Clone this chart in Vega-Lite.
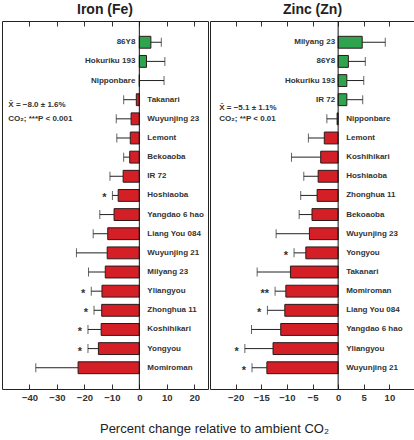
{
  "$schema": "https://vega.github.io/schema/vega-lite/v6.json",
  "padding": {"left": 1, "top": 2, "right": 1, "bottom": 4},
  "spacing": 0,
  "config": {
    "font": "Liberation Sans",
    "view": {"stroke": "#222", "strokeWidth": 1},
    "axis": {"grid": false, "domain": false, "tickColor": "#333", "tickWidth": 1, "tickSize": -5, "labelFont": "Liberation Sans", "labelFontWeight": "bold", "labelFontSize": 9.5, "labelColor": "#333", "labelPadding": 8, "title": null},
    "title": {"font": "Liberation Sans", "fontSize": 14, "fontWeight": "bold", "color": "#222", "offset": 4}
  },
  "title": {"text": "Percent change relative to ambient CO₂", "orient": "bottom", "anchor": "middle", "fontSize": 13, "fontWeight": "normal", "color": "#222", "offset": 21, "dx": 6},
  "datasets": {
    "fe": [
      {"cultivar": "86Y8", "value": 4.2, "errEnd": 8.0, "sig": ""},
      {"cultivar": "Hokuriku 193", "value": 2.6, "errEnd": 9.3, "sig": ""},
      {"cultivar": "Nipponbare", "value": 0, "errEnd": 9.0, "sig": ""},
      {"cultivar": "Takanari", "value": -1.1, "errEnd": -5.7, "sig": ""},
      {"cultivar": "Wuyunjing 23", "value": -3.0, "errEnd": -8.4, "sig": ""},
      {"cultivar": "Lemont", "value": -3.3, "errEnd": -8.2, "sig": ""},
      {"cultivar": "Bekoaoba", "value": -3.5, "errEnd": -5.7, "sig": ""},
      {"cultivar": "IR 72", "value": -5.9, "errEnd": -10.7, "sig": ""},
      {"cultivar": "Hoshiaoba", "value": -7.7, "errEnd": -9.8, "sig": "*"},
      {"cultivar": "Yangdao 6 hao", "value": -9.2, "errEnd": -14.4, "sig": ""},
      {"cultivar": "Liang You 084", "value": -11.5, "errEnd": -16.8, "sig": ""},
      {"cultivar": "Wuyunjing 21", "value": -11.7, "errEnd": -22.9, "sig": ""},
      {"cultivar": "Milyang 23", "value": -12.4, "errEnd": -18.5, "sig": ""},
      {"cultivar": "Yliangyou", "value": -13.6, "errEnd": -17.5, "sig": "*"},
      {"cultivar": "Zhonghua 11", "value": -13.7, "errEnd": -16.5, "sig": "*"},
      {"cultivar": "Koshihikari", "value": -13.9, "errEnd": -18.7, "sig": "*"},
      {"cultivar": "Yongyou", "value": -14.9, "errEnd": -18.7, "sig": "*"},
      {"cultivar": "Momiroman", "value": -22.3, "errEnd": -37.7, "sig": ""}
    ],
    "zn": [
      {"cultivar": "Milyang 23", "value": 4.7, "errEnd": 9.2, "sig": ""},
      {"cultivar": "86Y8", "value": 2.0, "errEnd": 5.3, "sig": ""},
      {"cultivar": "Hokuriku 193", "value": 1.7, "errEnd": 5.0, "sig": ""},
      {"cultivar": "IR 72", "value": 1.7, "errEnd": 4.8, "sig": ""},
      {"cultivar": "Nipponbare", "value": -0.2, "errEnd": -2.2, "sig": ""},
      {"cultivar": "Lemont", "value": -2.7, "errEnd": -5.8, "sig": ""},
      {"cultivar": "Koshihikari", "value": -3.4, "errEnd": -9.1, "sig": ""},
      {"cultivar": "Hoshiaoba", "value": -3.9, "errEnd": -6.7, "sig": ""},
      {"cultivar": "Zhonghua 11", "value": -4.1, "errEnd": -7.3, "sig": ""},
      {"cultivar": "Bekoaoba", "value": -5.1, "errEnd": -7.6, "sig": ""},
      {"cultivar": "Wuyunjing 23", "value": -5.6, "errEnd": -12.1, "sig": ""},
      {"cultivar": "Yongyou", "value": -6.3, "errEnd": -8.6, "sig": "*"},
      {"cultivar": "Takanari", "value": -9.3, "errEnd": -15.8, "sig": ""},
      {"cultivar": "Momiroman", "value": -10.2, "errEnd": -12.3, "sig": "**"},
      {"cultivar": "Liang You 084", "value": -10.4, "errEnd": -13.8, "sig": "*"},
      {"cultivar": "Yangdao 6 hao", "value": -11.2, "errEnd": -16.9, "sig": ""},
      {"cultivar": "Yliangyou", "value": -12.7, "errEnd": -18.2, "sig": "*"},
      {"cultivar": "Wuyunjing 21", "value": -13.9, "errEnd": -16.8, "sig": "*"}
    ]
  },
  "hconcat": [
    {
      "title": "Iron (Fe)",
      "width": 206,
      "height": 368,
      "data": {"name": "fe"},
      "encoding": {
        "y": {"field": "cultivar", "type": "nominal", "sort": null, "axis": null, "scale": {"paddingInner": 0.38, "paddingOuter": 0.8}}
      },
      "resolve": {"axis": {"x": "independent"}},
      "layer": [
        {
          "mark": {"type": "bar", "stroke": "#2a1a1a", "strokeWidth": 1},
          "encoding": {
            "x": {"field": "value", "type": "quantitative", "scale": {"domain": [-50, 25], "nice": false, "zero": false},
              "axis": {"orient": "bottom", "values": [-40, -30, -20, -10, 0, 10, 20]}},
            "x2": {"datum": 0},
            "color": {"condition": {"test": "datum.value > 0", "value": "#2ea44f"}, "value": "#d51f27"}
          }
        },
        {
          "mark": {"type": "rule", "color": "#222", "strokeWidth": 1},
          "encoding": {"x": {"field": "value", "type": "quantitative", "axis": {"orient": "top", "labels": false, "values": [-40, -30, -20, -10, 0, 10, 20]}}, "x2": {"field": "errEnd"}}
        },
        {
          "mark": {"type": "tick", "color": "#222", "thickness": 1, "size": 9},
          "encoding": {"x": {"field": "errEnd", "type": "quantitative", "axis": null}}
        },
        {
          "data": {"values": [{}]},
          "mark": {"type": "rule", "color": "#111", "strokeWidth": 1},
          "encoding": {"x": {"datum": 0, "axis": null}, "y": {"value": 0}, "y2": {"value": 368}}
        },
        {
          "transform": [{"filter": "datum.value >= 0"}],
          "mark": {"type": "text", "align": "right", "dx": -4, "fontSize": 8, "fontWeight": "bold", "color": "#333"},
          "encoding": {"x": {"datum": 0, "axis": null}, "text": {"field": "cultivar"}}
        },
        {
          "transform": [{"filter": "datum.value < 0"}],
          "mark": {"type": "text", "align": "left", "dx": 8, "fontSize": 8, "fontWeight": "bold", "color": "#333"},
          "encoding": {"x": {"datum": 0, "axis": null}, "text": {"field": "cultivar"}}
        },
        {
          "mark": {"type": "text", "align": "right", "dx": -6, "dy": 3, "fontSize": 11, "fontWeight": "bold", "color": "#333"},
          "encoding": {"x": {"field": "errEnd", "type": "quantitative", "axis": null}, "text": {"field": "sig"}}
        },
        {
          "data": {"values": [{"t": "X̄ = −8.0 ± 1.6%", "row": "Takanari", "at": -47.7}]},
          "mark": {"type": "text", "align": "left", "dy": 5, "fontSize": 8, "fontWeight": "bold", "color": "#333"},
          "encoding": {"x": {"field": "at", "type": "quantitative", "axis": null}, "y": {"field": "row", "type": "nominal"}, "text": {"field": "t"}}
        },
        {
          "data": {"values": [{"t": "CO₂; ***P < 0.001", "row": "Wuyunjing 23", "at": -47.7}]},
          "mark": {"type": "text", "align": "left", "dy": 0, "fontSize": 8, "fontWeight": "bold", "color": "#333"},
          "encoding": {"x": {"field": "at", "type": "quantitative", "axis": null}, "y": {"field": "row", "type": "nominal"}, "text": {"field": "t"}}
        }
      ]
    },
    {
      "title": "Zinc (Zn)",
      "width": 205,
      "height": 368,
      "data": {"name": "zn"},
      "encoding": {
        "y": {"field": "cultivar", "type": "nominal", "sort": null, "axis": null, "scale": {"paddingInner": 0.38, "paddingOuter": 0.8}}
      },
      "resolve": {"axis": {"x": "independent"}},
      "layer": [
        {
          "mark": {"type": "bar", "stroke": "#2a1a1a", "strokeWidth": 1},
          "encoding": {
            "x": {"field": "value", "type": "quantitative", "scale": {"domain": [-25, 15], "nice": false, "zero": false},
              "axis": {"orient": "bottom", "values": [-20, -15, -10, -5, 0, 5, 10]}},
            "x2": {"datum": 0},
            "color": {"condition": {"test": "datum.value > 0", "value": "#2ea44f"}, "value": "#d51f27"}
          }
        },
        {
          "mark": {"type": "rule", "color": "#222", "strokeWidth": 1},
          "encoding": {"x": {"field": "value", "type": "quantitative", "axis": {"orient": "top", "labels": false, "values": [-20, -15, -10, -5, 0, 5, 10]}}, "x2": {"field": "errEnd"}}
        },
        {
          "mark": {"type": "tick", "color": "#222", "thickness": 1, "size": 9},
          "encoding": {"x": {"field": "errEnd", "type": "quantitative", "axis": null}}
        },
        {
          "data": {"values": [{}]},
          "mark": {"type": "rule", "color": "#111", "strokeWidth": 1},
          "encoding": {"x": {"datum": 0, "axis": null}, "y": {"value": 0}, "y2": {"value": 368}}
        },
        {
          "transform": [{"filter": "datum.value >= 0"}],
          "mark": {"type": "text", "align": "right", "dx": -3, "fontSize": 8, "fontWeight": "bold", "color": "#333"},
          "encoding": {"x": {"datum": 0, "axis": null}, "text": {"field": "cultivar"}}
        },
        {
          "transform": [{"filter": "datum.value < 0"}],
          "mark": {"type": "text", "align": "left", "dx": 8, "fontSize": 8, "fontWeight": "bold", "color": "#333"},
          "encoding": {"x": {"datum": 0, "axis": null}, "text": {"field": "cultivar"}}
        },
        {
          "mark": {"type": "text", "align": "right", "dx": -6, "dy": 3, "fontSize": 11, "fontWeight": "bold", "color": "#333"},
          "encoding": {"x": {"field": "errEnd", "type": "quantitative", "axis": null}, "text": {"field": "sig"}}
        },
        {
          "data": {"values": [{"t": "X̄ = −5.1 ± 1.1%", "row": "IR 72", "at": -23.2}]},
          "mark": {"type": "text", "align": "left", "dy": 8, "fontSize": 8, "fontWeight": "bold", "color": "#333"},
          "encoding": {"x": {"field": "at", "type": "quantitative", "axis": null}, "y": {"field": "row", "type": "nominal"}, "text": {"field": "t"}}
        },
        {
          "data": {"values": [{"t": "CO₂; **P < 0.01", "row": "Nipponbare", "at": -23.2}]},
          "mark": {"type": "text", "align": "left", "dy": 0, "fontSize": 8, "fontWeight": "bold", "color": "#333"},
          "encoding": {"x": {"field": "at", "type": "quantitative", "axis": null}, "y": {"field": "row", "type": "nominal"}, "text": {"field": "t"}}
        }
      ]
    }
  ]
}
